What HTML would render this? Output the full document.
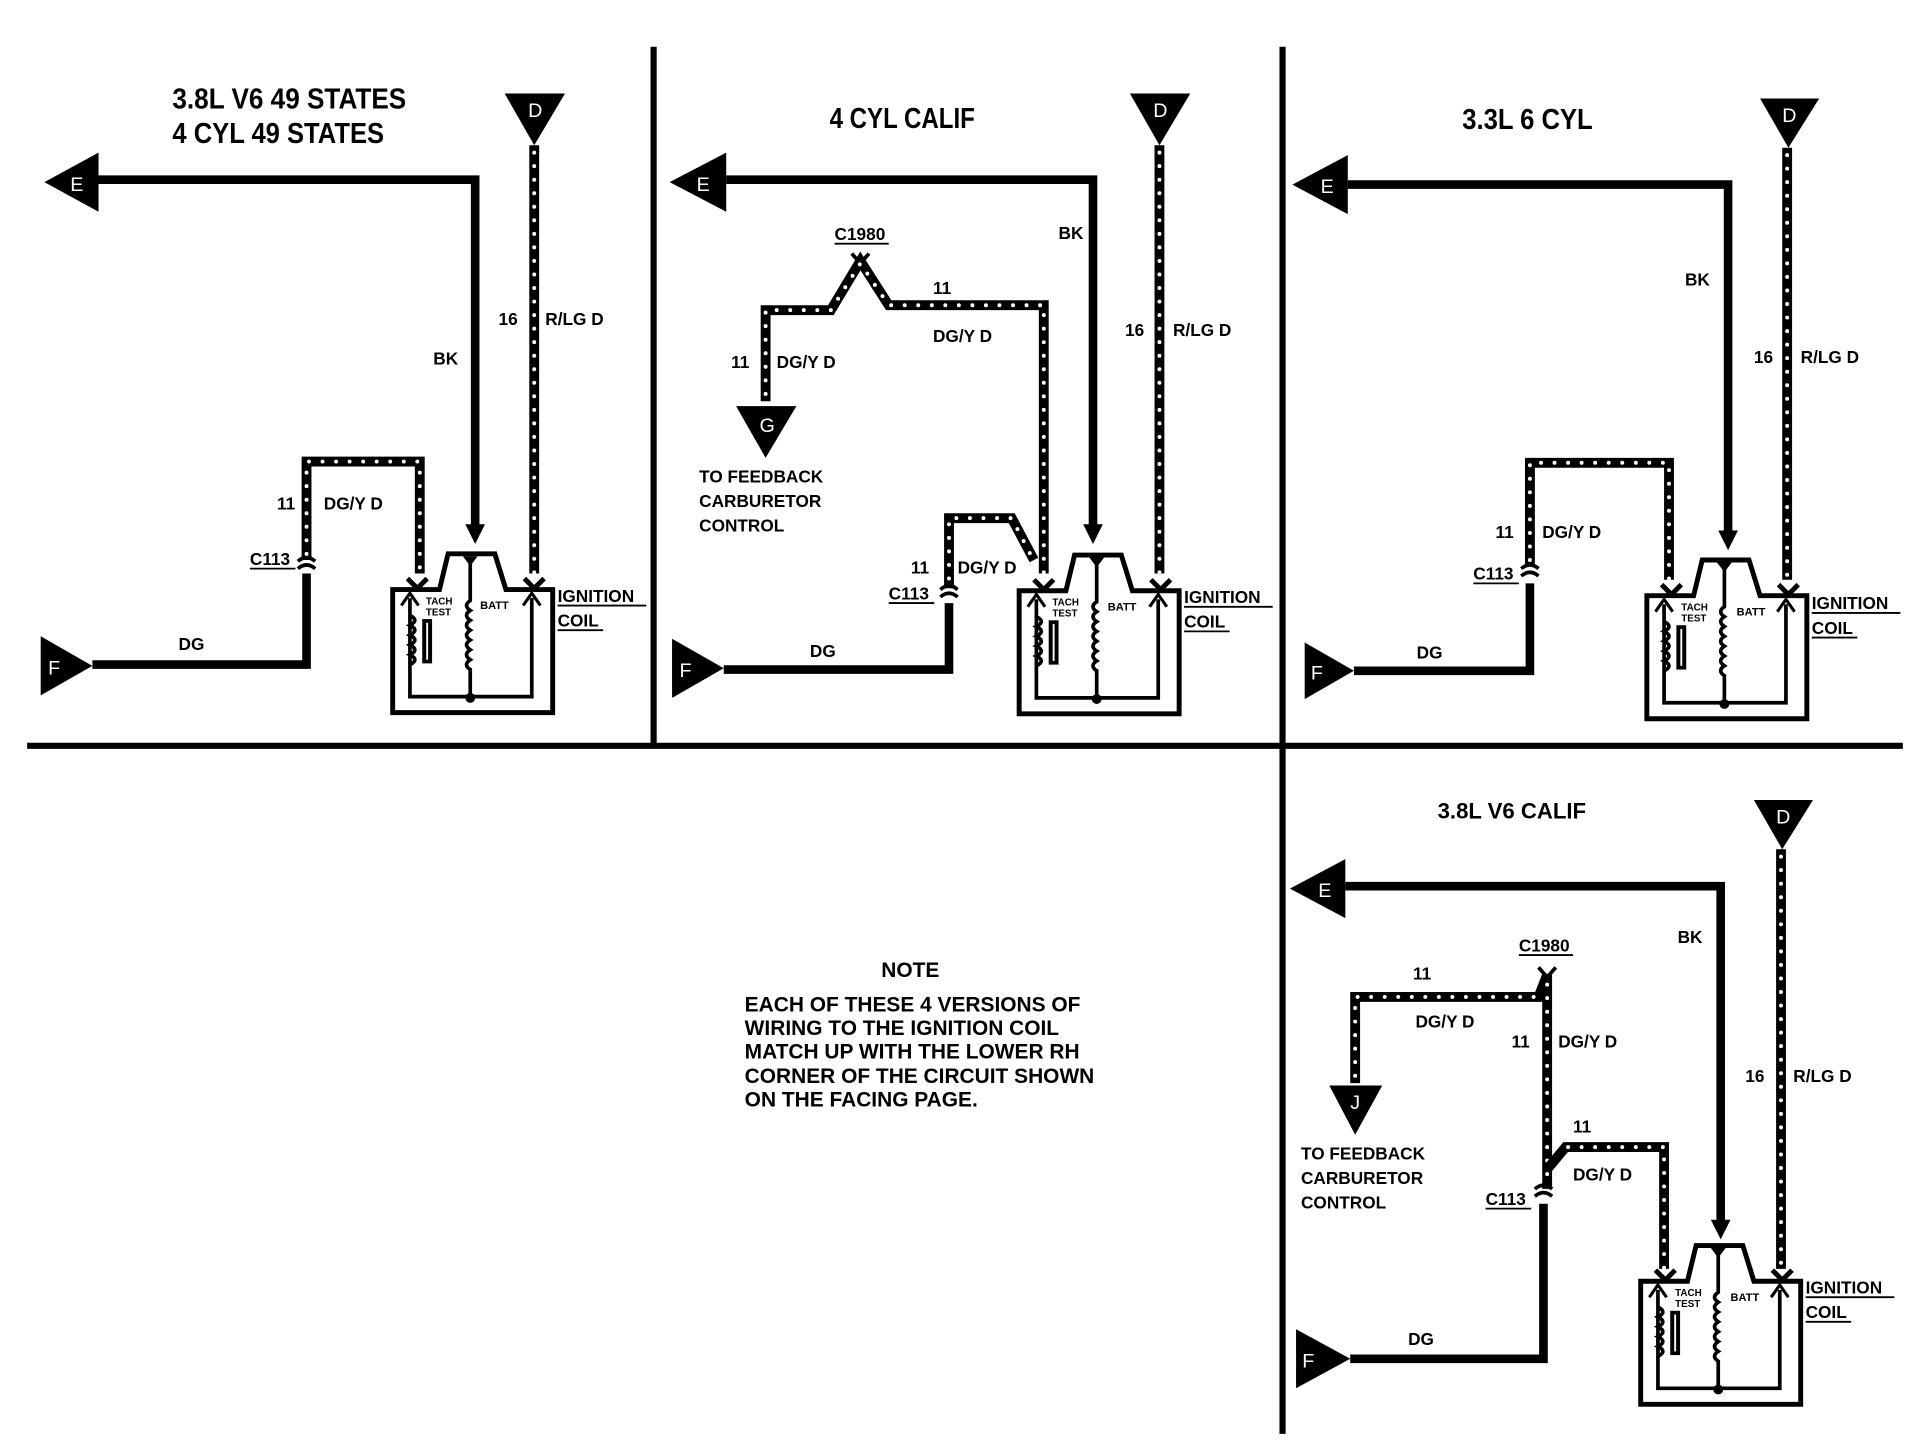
<!DOCTYPE html>
<html><head><style>
html,body{margin:0;padding:0;background:#fff;}
svg{display:block;}
text{font-family:"Liberation Sans",Arial,sans-serif;font-weight:bold;fill:#000;}
.s{font-size:14px;}
.L{font-size:16px;font-weight:normal;}
.t{font-size:23px;}
.n{font-size:17px;}
.w{fill:none;stroke:#000;stroke-width:8;stroke-linejoin:miter;}
.d{fill:none;stroke:#fff;stroke-width:3.2;stroke-linecap:round;stroke-dasharray:0 11;}
.sw{fill:none;stroke:#000;stroke-width:7;}
</style></head><body>
<svg width="1930" height="1440" viewBox="0 0 1568 1170" xmlns="http://www.w3.org/2000/svg">
<defs>
<g id="coil">
 <path d="M357,479 L319,479 L319,579 L449,579 L449,479 L411,479 L402,450 L364,450 Z" fill="none" stroke="#000" stroke-width="4"/>
 <path d="M333,486 L333,566 L432,566 L432,486" fill="none" stroke="#000" stroke-width="3"/>
 <path d="M326,492 L333,482 L340,492 M425,492 L432,482 L439,492" fill="none" stroke="#000" stroke-width="2.5"/>
 <path d="M376,452 L388,452 L382,460 Z" fill="#000"/>
 <path d="M382,458 L382,488 q-6,4 0,8 q-6,4 0,8 q-6,4 0,8 q-6,4 0,8 q-6,4 0,8 q-6,4 0,8 q-6,4 0,8 L382,568" fill="none" stroke="#000" stroke-width="3"/>
 <path d="M333,500 q8,4 0,8 q8,4 0,8 q8,4 0,8 q8,4 0,8 q8,4 0,8" fill="none" stroke="#000" stroke-width="3"/>
 <rect x="343" y="503" width="8" height="36" fill="#000"/>
 <line x1="347" y1="506" x2="347" y2="536" stroke="#fff" stroke-width="1.5"/>
 <circle cx="382" cy="567" r="4" fill="#000"/>
 <path d="M331,470 L339,478 L347,470 M426,470 L434,478 L442,470" fill="none" stroke="#000" stroke-width="4"/>
</g>
<path id="c113" d="M-7,0 q7,-6 14,0 M-7,6 q7,-6 14,0" fill="none" stroke="#000" stroke-width="3"/>
</defs>

<line x1="22" y1="606" x2="1546" y2="606" stroke="#000" stroke-width="5"/>
<line x1="531" y1="38" x2="531" y2="606" stroke="#000" stroke-width="5"/>
<line x1="1042" y1="38" x2="1042" y2="1165" stroke="#000" stroke-width="5"/>

<!-- Panel 1 -->
<text x="140" y="88" class="t" textLength="190" lengthAdjust="spacingAndGlyphs">3.8L V6 49 STATES</text>
<text x="140" y="116" class="t" textLength="172" lengthAdjust="spacingAndGlyphs">4 CYL 49 STATES</text>
<path d="M410,76 L459,76 L434,118 Z"/><text x="429" y="95" class="L" style="fill:#fff">D</text>
<path class="w" d="M434,118 L434,466"/><path class="d" d="M434,124 L434,466"/>
<path d="M36,148 L80,124 L80,172 Z"/><text x="57" y="155" class="L" style="fill:#fff">E</text>
<path class="sw" d="M80,146 L386,146 L386,430"/><path d="M378,426 L394,426 L386,442 Z"/>
<text x="352" y="296" class="s">BK</text>
<text x="405" y="264" class="s">16</text><text x="443" y="264" class="s">R/LG D</text>
<path d="M33,517 L75,541 L33,565 Z"/><text x="39" y="548" class="L" style="fill:#fff">F</text>
<path class="sw" d="M75,540 L249,540 L249,466"/>
<use href="#c113" x="249" y="456"/>
<text x="203" y="459" class="s">C113</text><line x1="203" y1="462" x2="240" y2="462" stroke="#000" stroke-width="1.5"/>
<path class="w" d="M249,455 L249,375 L341,375 L341,466"/><path class="d" d="M249,450 L249,375 L341,375 L341,466"/>
<text x="225" y="414" class="s">11</text><text x="263" y="414" class="s">DG/Y D</text>
<text x="145" y="528" class="s">DG</text>
<use href="#coil"/>
<text x="346" y="491" style="font-size:8px">TACH</text><text x="346" y="500" style="font-size:8px">TEST</text>
<text x="390" y="495" style="font-size:9px">BATT</text>
<text x="453" y="489" class="s">IGNITION</text><line x1="453" y1="492" x2="525" y2="492" stroke="#000" stroke-width="1.5"/>
<text x="453" y="509" class="s">COIL</text><line x1="453" y1="512" x2="490" y2="512" stroke="#000" stroke-width="1.5"/>

<!-- Panel 2 -->
<text x="674" y="104" class="t" textLength="118" lengthAdjust="spacingAndGlyphs">4 CYL CALIF</text>
<path d="M918,76 L967,76 L942,118 Z"/><text x="937" y="95" class="L" style="fill:#fff">D</text>
<path class="w" d="M942,118 L942,466"/><path class="d" d="M942,124 L942,466"/>
<path d="M544,148 L590,124 L590,172 Z"/><text x="566" y="155" class="L" style="fill:#fff">E</text>
<path class="sw" d="M590,146 L888,146 L888,430"/><path d="M880,426 L896,426 L888,442 Z"/>
<text x="860" y="194" class="s">BK</text>
<text x="914" y="273" class="s">16</text><text x="953" y="273" class="s">R/LG D</text>
<text x="678" y="195" class="s">C1980</text><line x1="678" y1="198" x2="722" y2="198" stroke="#000" stroke-width="1.5"/>
<path d="M692,206 L699,214 L706,206" fill="none" stroke="#000" stroke-width="3"/>
<path class="w" d="M622,326 L622,252 L675,252 L699,212 L722,248 L848,248 L848,466"/>
<path class="d" d="M622,320 L622,252 L675,252 L699,214 L722,248 L848,248 L848,466"/>
<path class="w" d="M771,478 L771,421 L822,421 L840,455"/><path class="d" d="M771,470 L771,421 L822,421 L838,452"/>
<text x="758" y="239" class="s">11</text><text x="758" y="278" class="s">DG/Y D</text>
<text x="594" y="299" class="s">11</text><text x="631" y="299" class="s">DG/Y D</text>
<path d="M598,330 L647,330 L622,372 Z"/><text x="617" y="351" class="L" style="fill:#fff">G</text>
<text x="568" y="392" class="s">TO FEEDBACK</text><text x="568" y="412" class="s">CARBURETOR</text><text x="568" y="432" class="s">CONTROL</text>
<text x="740" y="466" class="s">11</text><text x="778" y="466" class="s">DG/Y D</text>
<use href="#c113" x="771" y="479"/>
<text x="722" y="487" class="s">C113</text><line x1="722" y1="490" x2="759" y2="490" stroke="#000" stroke-width="1.5"/>
<path d="M546,519 L588,543 L546,567 Z"/><text x="552" y="550" class="L" style="fill:#fff">F</text>
<path class="sw" d="M588,544 L771,544 L771,490"/>
<text x="658" y="534" class="s">DG</text>
<use href="#coil" x="509" y="1"/>
<text x="855" y="492" style="font-size:8px">TACH</text><text x="855" y="501" style="font-size:8px">TEST</text>
<text x="900" y="496" style="font-size:9px">BATT</text>
<text x="962" y="490" class="s">IGNITION</text><line x1="962" y1="493" x2="1034" y2="493" stroke="#000" stroke-width="1.5"/>
<text x="962" y="510" class="s">COIL</text><line x1="962" y1="513" x2="999" y2="513" stroke="#000" stroke-width="1.5"/>

<!-- Panel 3 -->
<text x="1188" y="105" class="t" textLength="106" lengthAdjust="spacingAndGlyphs">3.3L 6 CYL</text>
<path d="M1430,80 L1478,80 L1453,120 Z"/><text x="1448" y="99" class="L" style="fill:#fff">D</text>
<path class="w" d="M1452,120 L1452,471"/><path class="d" d="M1452,126 L1452,471"/>
<path d="M1050,150 L1095,126 L1095,174 Z"/><text x="1073" y="157" class="L" style="fill:#fff">E</text>
<path class="sw" d="M1095,150 L1404,150 L1404,435"/><path d="M1396,431 L1412,431 L1404,447 Z"/>
<text x="1369" y="232" class="s">BK</text>
<text x="1425" y="295" class="s">16</text><text x="1463" y="295" class="s">R/LG D</text>
<path class="w" d="M1243,460 L1243,376 L1356,376 L1356,471"/><path class="d" d="M1243,455 L1243,376 L1356,376 L1356,471"/>
<use href="#c113" x="1243" y="462"/>
<text x="1197" y="471" class="s">C113</text><line x1="1197" y1="474" x2="1234" y2="474" stroke="#000" stroke-width="1.5"/>
<text x="1215" y="437" class="s">11</text><text x="1253" y="437" class="s">DG/Y D</text>
<path d="M1060,522 L1100,545 L1060,568 Z"/><text x="1065" y="552" class="L" style="fill:#fff">F</text>
<path class="sw" d="M1100,545 L1243,545 L1243,474"/>
<text x="1151" y="535" class="s">DG</text>
<use href="#coil" x="1019" y="5"/>
<text x="1366" y="496" style="font-size:8px">TACH</text><text x="1366" y="505" style="font-size:8px">TEST</text>
<text x="1411" y="500" style="font-size:9px">BATT</text>
<text x="1472" y="495" class="s">IGNITION</text><line x1="1472" y1="498" x2="1544" y2="498" stroke="#000" stroke-width="1.5"/>
<text x="1472" y="515" class="s">COIL</text><line x1="1472" y1="518" x2="1509" y2="518" stroke="#000" stroke-width="1.5"/>

<!-- Panel 4 -->
<text x="1168" y="665" style="font-size:18px">3.8L V6 CALIF</text>
<path d="M1425,650 L1473,650 L1448,690 Z"/><text x="1443" y="669" class="L" style="fill:#fff">D</text>
<path class="w" d="M1447,690 L1447,1031"/><path class="d" d="M1447,696 L1447,1031"/>
<path d="M1048,722 L1093,698 L1093,746 Z"/><text x="1071" y="729" class="L" style="fill:#fff">E</text>
<path class="sw" d="M1093,720 L1398,720 L1398,995"/><path d="M1390,991 L1406,991 L1398,1007 Z"/>
<text x="1363" y="766" class="s">BK</text>
<text x="1418" y="879" class="s">16</text><text x="1457" y="879" class="s">R/LG D</text>
<text x="1234" y="773" class="s">C1980</text><line x1="1234" y1="776" x2="1278" y2="776" stroke="#000" stroke-width="1.5"/>
<path d="M1250,786 L1257,794 L1264,786" fill="none" stroke="#000" stroke-width="3"/>
<path class="w" d="M1101,880 L1101,810 L1250,810 L1257,792 L1257,966"/>
<path class="d" d="M1101,874 L1101,810 L1248,810 M1257,800 L1257,962"/>
<path class="w" d="M1257,950 L1272,932 L1352,932 L1352,1031"/><path class="d" d="M1274,932 L1352,932 L1352,1031"/>
<text x="1148" y="796" class="s">11</text><text x="1150" y="835" class="s">DG/Y D</text>
<text x="1228" y="851" class="s">11</text><text x="1266" y="851" class="s">DG/Y D</text>
<text x="1278" y="920" class="s">11</text><text x="1278" y="959" class="s">DG/Y D</text>
<path d="M1080,882 L1123,882 L1101,922 Z"/><text x="1097" y="901" class="L" style="fill:#fff">J</text>
<text x="1057" y="942" class="s">TO FEEDBACK</text><text x="1057" y="962" class="s">CARBURETOR</text><text x="1057" y="982" class="s">CONTROL</text>
<use href="#c113" x="1254" y="966"/>
<text x="1207" y="979" class="s">C113</text><line x1="1207" y1="982" x2="1244" y2="982" stroke="#000" stroke-width="1.5"/>
<path d="M1053,1080 L1097,1104 L1053,1128 Z"/><text x="1058" y="1111" class="L" style="fill:#fff">F</text>
<path class="sw" d="M1097,1104 L1254,1104 L1254,978"/>
<text x="1144" y="1093" class="s">DG</text>
<use href="#coil" x="1014" y="562"/>
<text x="1361" y="1053" style="font-size:8px">TACH</text><text x="1361" y="1062" style="font-size:8px">TEST</text>
<text x="1406" y="1057" style="font-size:9px">BATT</text>
<text x="1467" y="1051" class="s">IGNITION</text><line x1="1467" y1="1054" x2="1539" y2="1054" stroke="#000" stroke-width="1.5"/>
<text x="1467" y="1071" class="s">COIL</text><line x1="1467" y1="1074" x2="1504" y2="1074" stroke="#000" stroke-width="1.5"/>

<!-- NOTE -->
<text x="716" y="794" class="n">NOTE</text>
<text x="605" y="822" class="n">EACH OF THESE 4 VERSIONS OF</text>
<text x="605" y="841" class="n">WIRING TO THE IGNITION COIL</text>
<text x="605" y="860" class="n">MATCH UP WITH THE LOWER RH</text>
<text x="605" y="880" class="n">CORNER OF THE CIRCUIT SHOWN</text>
<text x="605" y="899" class="n">ON THE FACING PAGE.</text>
</svg>
</body></html>
